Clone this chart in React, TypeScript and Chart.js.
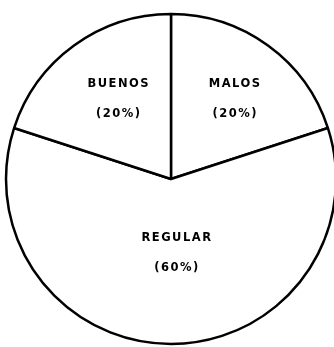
import React, { useEffect, useRef } from "react";
import { Chart, registerables } from "chart.js";

Chart.register(...registerables);

const categories = ["MALOS", "REGULAR", "BUENOS"];
const values = [20, 60, 20];
const percentLabels = ["(20%)", "(60%)", "(20%)"];

const labelPlugin = {
  id: "sliceLabels",
  afterDatasetsDraw(chart: any) {
    const ctx = chart.ctx;
    const meta = chart.getDatasetMeta(0);
    ctx.save();
    ctx.fillStyle = "#000";
    ctx.textAlign = "center";
    ctx.textBaseline = "middle";
    ctx.font = "bold 11.5px 'DejaVu Sans'";
    try { (ctx as any).letterSpacing = "1.5px"; } catch (e) {}
    meta.data.forEach((arc: any, i: number) => {
      const p = arc.getProps(["x", "y", "startAngle", "endAngle", "outerRadius"], true);
      const mid = (p.startAngle + p.endAngle) / 2;
      const f = values[i] > 40 ? 0.45 : 0.6;
      const cx = p.x + Math.cos(mid) * p.outerRadius * f + 6;
      const cy = p.y + Math.sin(mid) * p.outerRadius * f;
      ctx.fillText(categories[i], cx, cy - 15);
      ctx.fillText(percentLabels[i], cx, cy + 15);
    });
    ctx.restore();
  },
};

export default function App() {
  const ref = useRef<HTMLCanvasElement>(null);
  useEffect(() => {
    if (!ref.current) return;
    const chart = new Chart(ref.current, {
      type: "pie",
      data: {
        labels: categories,
        datasets: [
          {
            data: values,
            backgroundColor: "#ffffff",
            borderColor: "#000000",
            borderWidth: 2.5,
          },
        ],
      },
      options: {
        animation: false,
        responsive: false,
        radius: 165,
        layout: { padding: { left: 8, right: 0, top: 11, bottom: 0 } },
        plugins: { legend: { display: false }, tooltip: { enabled: false } },
      },
      plugins: [labelPlugin],
    });
    return () => chart.destroy();
  }, []);
  return (
    <div style={{ position: "fixed", left: 0, top: 0, width: 334, height: 347, background: "#fff" }}>
      <canvas ref={ref} width={334} height={347} />
    </div>
  );
}
